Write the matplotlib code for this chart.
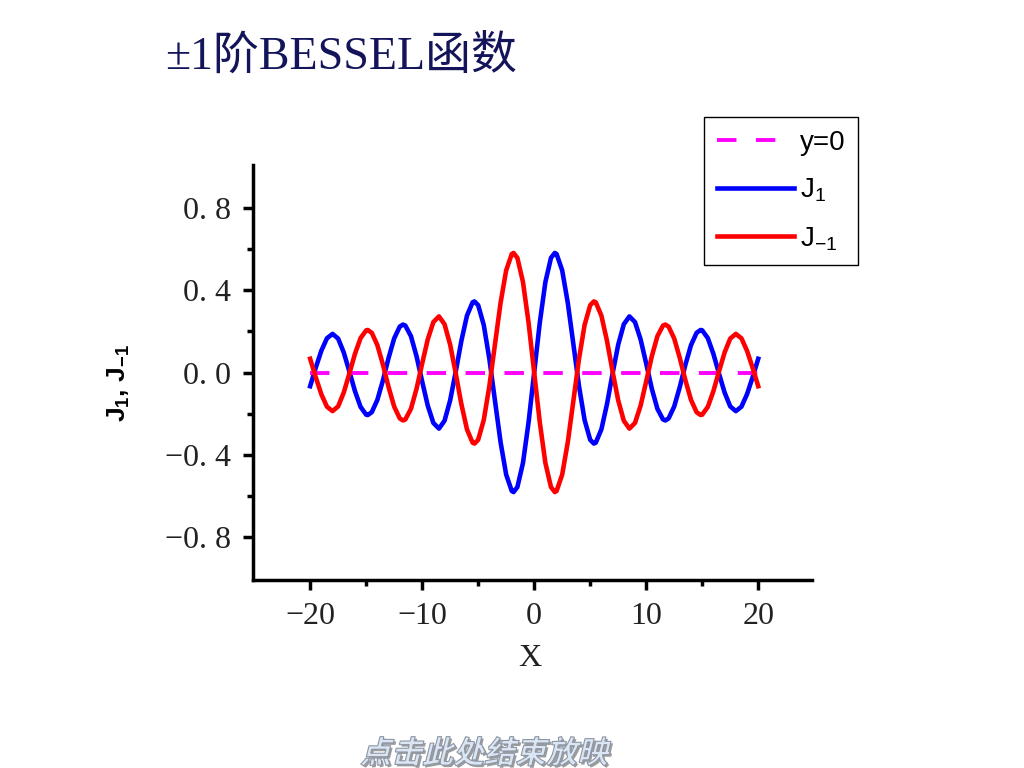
import matplotlib
matplotlib.use("Agg")
import matplotlib.pyplot as plt
from matplotlib.textpath import TextPath
from matplotlib.patches import PathPatch
from matplotlib.font_manager import FontProperties
from matplotlib.transforms import Affine2D, IdentityTransform

plt.rcParams['font.family'] = ['Liberation Serif', 'Noto Sans CJK SC', 'DejaVu Sans']

# values
x_vals = [-20, -19.5, -19, -18.5, -18, -17.5, -17, -16.5, -16, -15.5, -15, -14.86,
          -14.5, -14, -13.5, -13, -12.5, -12, -11.71, -11.5, -11, -10.5, -10, -9.5,
          -9, -8.5, -8, -7.5, -7, -6.5, -6, -5.5, -5.33, -5, -4.5, -4, -3.5, -3,
          -2.5, -2, -1.84, -1.5, -1, -0.5, 0, 0.5, 1, 1.5, 1.84, 2, 2.5, 3, 3.5,
          4, 4.5, 5, 5.33, 5.5, 6, 6.5, 7, 7.5, 8, 8.5, 9, 9.5, 10, 10.5, 11,
          11.5, 11.71, 12, 12.5, 13, 13.5, 14, 14.5, 14.86, 15, 15.5, 16, 16.5,
          17, 17.5, 18, 18.5, 19, 19.5, 20]

j1_vals = [-0.0668, 0.0230, 0.1057, 0.1665, 0.1880, 0.1650, 0.0977, 0.0056, -0.0904,
           -0.1672, -0.2051, -0.2070, -0.1934, -0.1334, -0.0380, 0.0703, 0.1655,
           0.2234, 0.2333, 0.2284, 0.1768, 0.0789, -0.0435, -0.1613, -0.2453,
           -0.2731, -0.2346, -0.1352, 0.0047, 0.1538, 0.2767, 0.3414, 0.3461,
           0.3276, 0.2311, 0.0660, -0.1374, -0.3391, -0.4971, -0.5767, -0.5819,
           -0.5579, -0.4401, -0.2423, 0.0, 0.2423, 0.4401, 0.5579, 0.5819, 0.5767,
           0.4971, 0.3391, 0.1374, -0.0660, -0.2311, -0.3276, -0.3461, -0.3414,
           -0.2767, -0.1538, -0.0047, 0.1352, 0.2346, 0.2731, 0.2453, 0.1613,
           0.0435, -0.0789, -0.1768, -0.2284, -0.2333, -0.2234, -0.1655, -0.0703,
           0.0380, 0.1334, 0.1934, 0.2070, 0.2051, 0.1672, 0.0904, -0.0056,
           -0.0977, -0.1650, -0.1880, -0.1665, -0.1057, -0.0230, 0.0668]

jm1_vals = [0.0668, -0.0230, -0.1057, -0.1665, -0.1880, -0.1650, -0.0977, -0.0056, 0.0904,
            0.1672, 0.2051, 0.2070, 0.1934, 0.1334, 0.0380, -0.0703, -0.1655,
            -0.2234, -0.2333, -0.2284, -0.1768, -0.0789, 0.0435, 0.1613, 0.2453,
            0.2731, 0.2346, 0.1352, -0.0047, -0.1538, -0.2767, -0.3414, -0.3461,
            -0.3276, -0.2311, -0.0660, 0.1374, 0.3391, 0.4971, 0.5767, 0.5819,
            0.5579, 0.4401, 0.2423, 0.0, -0.2423, -0.4401, -0.5579, -0.5819, -0.5767,
            -0.4971, -0.3391, -0.1374, 0.0660, 0.2311, 0.3276, 0.3461, 0.3414,
            0.2767, 0.1538, 0.0047, -0.1352, -0.2346, -0.2731, -0.2453, -0.1613,
            -0.0435, 0.0789, 0.1768, 0.2284, 0.2333, 0.2234, 0.1655, 0.0703,
            -0.0380, -0.1334, -0.1934, -0.2070, -0.2051, -0.1672, -0.0904, 0.0056,
            0.0977, 0.1650, 0.1880, 0.1665, 0.1057, 0.0230, -0.0668]

zero_x = [-20, 20]
zero_y = [0, 0]

x_ticks = [-20, -10, 0, 10, 20]
x_tick_labels = ['\u221220', '\u221210', '0', '10', '20']
x_minor = [-15, -5, 5, 15]
y_ticks = [-0.8, -0.4, 0.0, 0.4, 0.8]
y_tick_labels = ['\u22120. 8', '\u22120. 4', '0. 0', '0. 4', '0. 8']
y_minor = [-0.6, -0.2, 0.2, 0.6]

title = '\u00b11阶BESSEL函数'
footer = '点击此处结束放映'

fig = plt.figure(figsize=(10.24, 7.68), dpi=100)
ax = fig.add_axes([253 / 1024, 1 - 580 / 768, 559 / 1024, 415 / 768])

ax.plot(x_vals, j1_vals, color='#0000ff', lw=3.3, solid_joinstyle='round',
        label=r'J$_\mathregular{1}$', zorder=2)
ax.plot(zero_x, zero_y, color='#ff00ff', lw=2.8, dashes=(5, 5), label='y=0', zorder=3)
ax.plot(x_vals, jm1_vals, color='#ff0000', lw=3.3, solid_joinstyle='round',
        label=r'J$_\mathregular{-1}$', zorder=4)

ax.set_xlim(-25.1, 24.8)
ax.set_ylim(-1.01, 1.01)
for s in ['top', 'right']:
    ax.spines[s].set_visible(False)
for s in ['left', 'bottom']:
    ax.spines[s].set_linewidth(2.5)

ax.set_xticks(x_ticks)
ax.set_xticklabels(x_tick_labels)
ax.set_xticks(x_minor, minor=True)
ax.set_yticks(y_ticks)
ax.set_yticklabels(y_tick_labels)
ax.set_yticks(y_minor, minor=True)
ax.tick_params(which='major', direction='out', length=7.5, width=2.5, labelsize=23,
               labelcolor='#222222', pad=8)
ax.tick_params(which='minor', direction='out', length=4, width=2.5)

fig.text(530 / 1024, 1 - 658 / 768, 'X', fontsize=23, color='#222222', ha='center', va='center')
fig.text(119 / 1024, 1 - 383 / 768, r'J$_\mathregular{1}$, J$_\mathregular{-1}$', rotation=90,
         family=['Liberation Sans'], fontweight='bold', fontsize=19, ha='center', va='center')

fig.text(165 / 1024, 1 - 57 / 768, title, fontsize=33, color='#14145a', ha='left', va='center')

h, l = ax.get_legend_handles_labels()
order = [1, 0, 2]
leg = fig.legend([h[i] for i in order], [l[i] for i in order], loc='upper left',
                 bbox_to_anchor=(704 / 1024, 1 - 117 / 768), frameon=True, fancybox=False,
                 edgecolor='black', framealpha=1, borderaxespad=0, handlelength=2.8,
                 handletextpad=0.2, labelspacing=0.75, borderpad=0.45,
                 prop={'family': ['Liberation Sans'], 'size': 20})
leg.get_frame().set_linewidth(1.0)

# slanted footer text
fp = FontProperties(family='Noto Sans CJK SC', weight='bold')
tp = TextPath((0, 0), footer, size=31, prop=fp)
shadow = PathPatch(tp, transform=Affine2D().skew_deg(14, 0).translate(362, 3) + IdentityTransform(),
                   facecolor='#9c9c9c', edgecolor='none')
patch = PathPatch(tp, transform=Affine2D().skew_deg(14, 0).translate(360, 5) + IdentityTransform(),
                  facecolor='#dce5f2', edgecolor='#8c96a6', lw=0.8)
fig.patches.extend([shadow, patch])

fig.savefig('out.png', dpi=100)
